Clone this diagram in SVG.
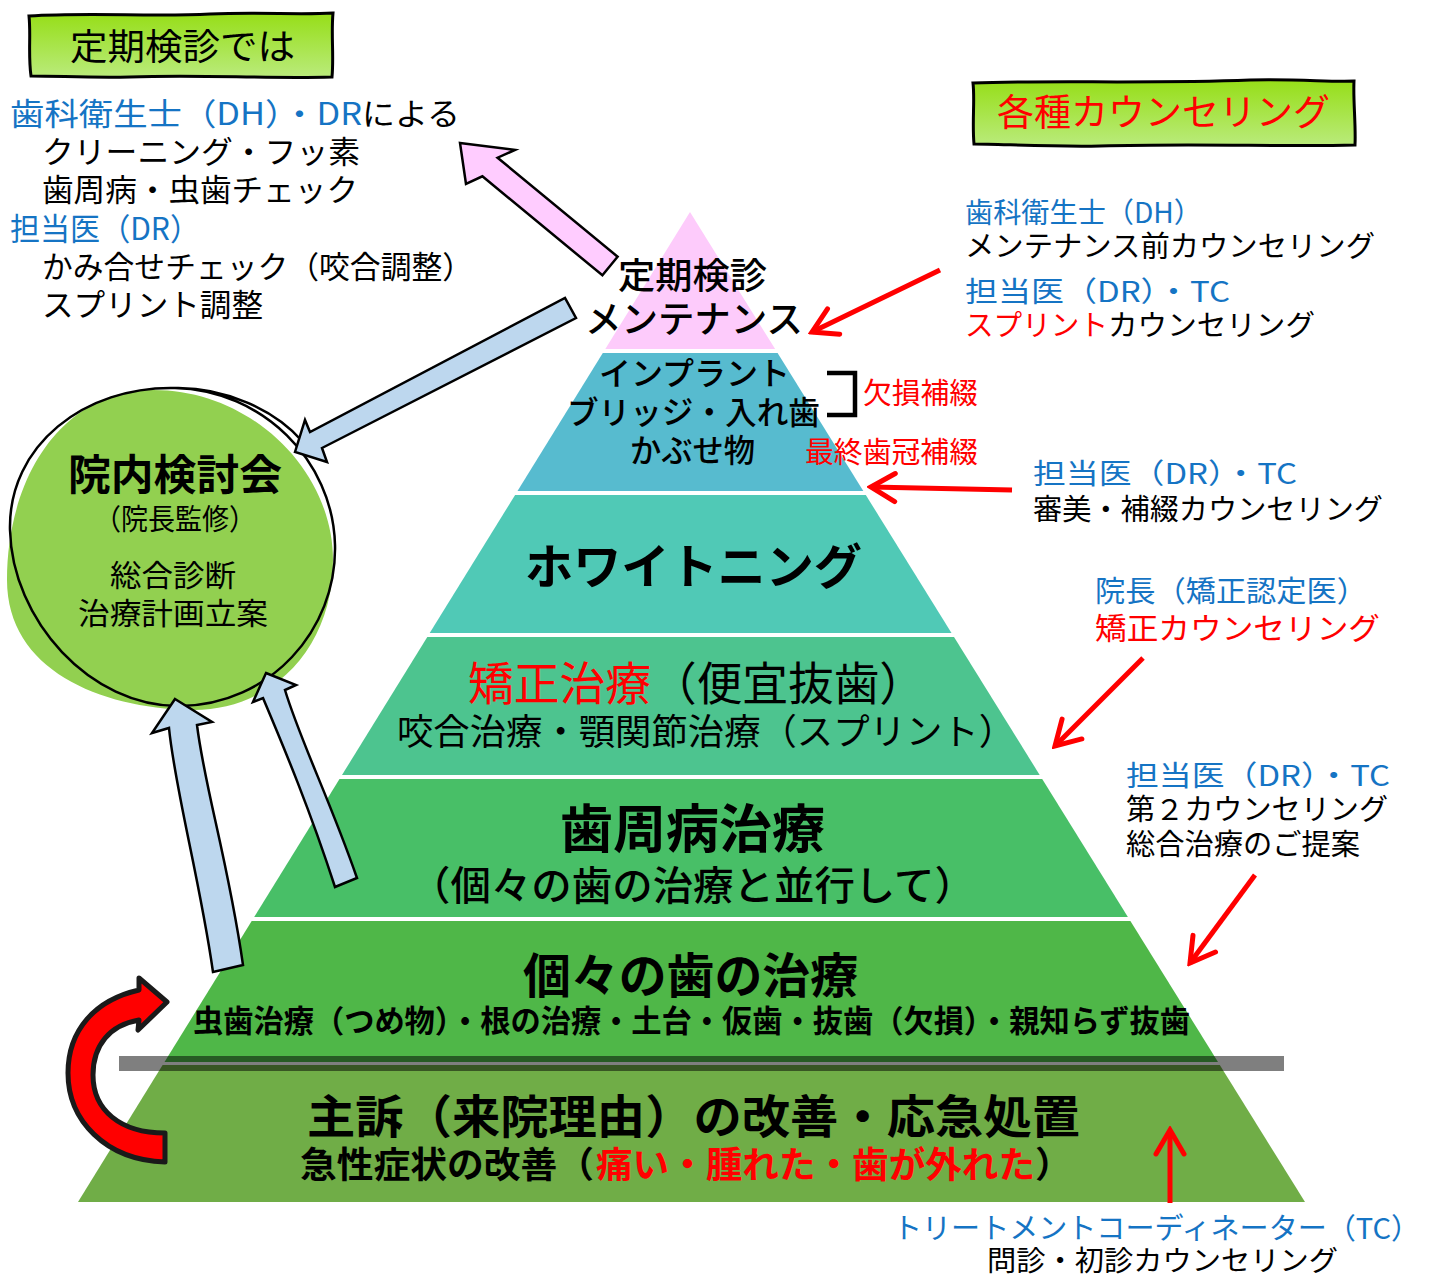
<svg xmlns="http://www.w3.org/2000/svg" width="1435" height="1277" viewBox="0 0 1435 1277">
<defs>
<style>
text{font-family:"Noto Sans CJK JP","Noto Sans",sans-serif;}
.k{fill:#000}
.bl{fill:#1574C4}
.rd{fill:#FF0000}
.m{font-weight:500}
.bd{font-weight:700}
.ra{stroke:#FF0000;stroke-width:5;fill:none;marker-end:url(#rh)}
.ba{fill:#BDD7EE;stroke:#000;stroke-width:2.5;stroke-linejoin:miter}
</style>
<linearGradient id="gb" x1="0" y1="0" x2="0" y2="1">
<stop offset="0" stop-color="#96DE17"/>
<stop offset="1" stop-color="#BAEB7C"/>
</linearGradient>
<marker id="rh" viewBox="-28 -18 32 36" refX="0" refY="0" markerWidth="32" markerHeight="36" markerUnits="userSpaceOnUse" orient="auto">
<path d="M-24,-14 L0,0 L-24,14" fill="none" stroke="#FF0000" stroke-width="5" stroke-linecap="round"/>
</marker>
</defs>
<rect width="1435" height="1277" fill="#fff"/>

<g id="pyramid">
<polygon points="690,212 775.1,349 605.3,349" fill="#FDCBFB"/>
<polygon points="602.8,353 777.6,353 863.3,491 517.5,491" fill="#57BBCF"/>
<polygon points="515.1,495 865.8,495 951.5,633 429.7,633" fill="#50C9B6"/>
<polygon points="427.3,637 954,637 1039.7,775 342,775" fill="#4DC48F"/>
<polygon points="339.5,779 1042.2,779 1127.9,917 254.2,917" fill="#48BF67"/>
<polygon points="251.7,921 1130.4,921 1218,1062 164.5,1062" fill="#4FB748"/>
<polygon points="162.6,1065 1219.8,1065 1305,1202 78,1202" fill="#70AD47"/>
<rect x="119" y="1056" width="1165" height="15" fill="#000" fill-opacity="0.5"/>
</g>

<g id="box-teiki">
<path d="M29,16 C90,12 150,17 210,14 C260,12 300,15 333,13 C331,35 334,55 332,77 C260,79 200,74 130,77 C90,78 60,76 31,76 C28,55 31,35 29,16 Z" fill="url(#gb)" stroke="#000" stroke-width="3"/>
<text x="70" y="60" font-size="36" class="k" textLength="225" lengthAdjust="spacingAndGlyphs">定期検診では</text>
</g>

<g id="left-notes">
<text x="10" y="125" font-size="31" class="bl" textLength="352" lengthAdjust="spacingAndGlyphs">歯科衛生士（DH）・DR</text>
<text x="362" y="125" font-size="31" class="k" textLength="98" lengthAdjust="spacingAndGlyphs">による</text>
<text x="42" y="163" font-size="31" class="k" textLength="318" lengthAdjust="spacingAndGlyphs">クリーニング・フッ素</text>
<text x="42" y="201" font-size="31" class="k" textLength="316" lengthAdjust="spacingAndGlyphs">歯周病・虫歯チェック</text>
<text x="10" y="240" font-size="31" class="bl" textLength="190" lengthAdjust="spacingAndGlyphs">担当医（DR）</text>
<text x="42" y="278" font-size="31" class="k" textLength="431" lengthAdjust="spacingAndGlyphs">かみ合せチェック（咬合調整）</text>
<text x="42" y="316" font-size="31" class="k" textLength="221" lengthAdjust="spacingAndGlyphs">スプリント調整</text>
</g>

<g id="box-counseling">
<path d="M973,83 C1050,80 1150,84 1250,80 C1300,79 1330,82 1354,81 C1353,100 1356,125 1355,145 C1280,147 1200,143 1100,146 C1050,147 1000,144 974,144 C972,122 975,100 973,83 Z" fill="url(#gb)" stroke="#000" stroke-width="3"/>
<text x="997" y="126" font-size="37" class="rd" textLength="333" lengthAdjust="spacingAndGlyphs">各種カウンセリング</text>
</g>

<g id="node-kaigi">
<path d="M150,390 C250,388 333,470 333,560 C333,650 270,712 190,710 C100,708 7,670 7,580 C7,480 60,392 150,390 Z" fill="#92D050"/>
<path d="M175,388 C262,390 333,460 335,545 C337,630 270,705 180,706 C90,707 12,620 10,530 C8,445 85,386 175,388 C225,387 275,410 303,442" fill="none" stroke="#000" stroke-width="2.5"/>
<text x="68" y="490" font-size="42" class="k bd" textLength="214" lengthAdjust="spacingAndGlyphs">院内検討会</text>
<text x="94" y="530" font-size="29" class="k" textLength="162" lengthAdjust="spacingAndGlyphs">（院長監修）</text>
<text x="110" y="586" font-size="30" class="k" textLength="126" lengthAdjust="spacingAndGlyphs">総合診断</text>
<text x="78" y="624" font-size="30" class="k" textLength="190" lengthAdjust="spacingAndGlyphs">治療計画立案</text>
</g>

<g id="layer-maintenance">
<text x="618" y="289" font-size="36" class="k m" textLength="149" lengthAdjust="spacingAndGlyphs">定期検診</text>
<text x="585" y="333" font-size="37" class="k m" textLength="218" lengthAdjust="spacingAndGlyphs">メンテナンス</text>
</g>

<g id="layer-prosthetics">
<text x="599" y="385" font-size="32" class="k m" textLength="191" lengthAdjust="spacingAndGlyphs">インプラント</text>
<text x="567" y="424" font-size="32" class="k m" textLength="253" lengthAdjust="spacingAndGlyphs">ブリッジ・入れ歯</text>
<text x="630" y="462" font-size="32" class="k m" textLength="125" lengthAdjust="spacingAndGlyphs">かぶせ物</text>
<path d="M827,373 L855,373 L855,415 L827,415" fill="none" stroke="#000" stroke-width="4.5"/>
<text x="863" y="404" font-size="29" class="rd" textLength="115" lengthAdjust="spacingAndGlyphs">欠損補綴</text>
<text x="805" y="463" font-size="29" class="rd" textLength="173" lengthAdjust="spacingAndGlyphs">最終歯冠補綴</text>
</g>

<g id="layer-whitening">
<text x="525" y="584" font-size="48" class="k bd" textLength="337" lengthAdjust="spacingAndGlyphs">ホワイトニング</text>
</g>

<g id="layer-ortho">
<text x="468" y="700" font-size="46" class="rd" textLength="183" lengthAdjust="spacingAndGlyphs">矯正治療</text>
<text x="651" y="700" font-size="46" class="k" textLength="274" lengthAdjust="spacingAndGlyphs">（便宜抜歯）</text>
<text x="397" y="745" font-size="36" class="k" textLength="618" lengthAdjust="spacingAndGlyphs">咬合治療・顎関節治療（スプリント）</text>
</g>

<g id="layer-perio">
<text x="560" y="848" font-size="52" class="k bd" textLength="265" lengthAdjust="spacingAndGlyphs">歯周病治療</text>
<text x="410" y="900" font-size="40" class="k m" textLength="565" lengthAdjust="spacingAndGlyphs">（個々の歯の治療と並行して）</text>
</g>

<g id="layer-individual">
<text x="523" y="993" font-size="48" class="k bd" textLength="335" lengthAdjust="spacingAndGlyphs">個々の歯の治療</text>
<text x="193" y="1032" font-size="31" class="k bd" textLength="997" lengthAdjust="spacingAndGlyphs">虫歯治療（つめ物）・根の治療・土台・仮歯・抜歯（欠損）・親知らず抜歯</text>
</g>

<g id="layer-emergency">
<text x="307" y="1133" font-size="46" class="k bd" textLength="773" lengthAdjust="spacingAndGlyphs">主訴（来院理由）の改善・応急処置</text>
<text x="300" y="1178" font-size="36" class="k bd" textLength="294" lengthAdjust="spacingAndGlyphs">急性症状の改善（</text>
<text x="596" y="1178" font-size="36" class="rd bd" textLength="439" lengthAdjust="spacingAndGlyphs">痛い・腫れた・歯が外れた</text>
<text x="1035" y="1178" font-size="36" class="k bd" textLength="37" lengthAdjust="spacingAndGlyphs">）</text>
</g>

<g id="right-notes">
<text x="965" y="223" font-size="28" class="bl" textLength="237" lengthAdjust="spacingAndGlyphs">歯科衛生士（DH）</text>
<text x="965" y="257" font-size="29" class="k" textLength="410" lengthAdjust="spacingAndGlyphs">メンテナンス前カウンセリング</text>
<text x="965" y="302" font-size="28" class="bl" textLength="265" lengthAdjust="spacingAndGlyphs">担当医（DR）・TC</text>
<text x="965" y="336" font-size="29" class="rd" textLength="143" lengthAdjust="spacingAndGlyphs">スプリント</text>
<text x="1108" y="336" font-size="29" class="k" textLength="207" lengthAdjust="spacingAndGlyphs">カウンセリング</text>
<text x="1033" y="484" font-size="28" class="bl" textLength="264" lengthAdjust="spacingAndGlyphs">担当医（DR）・TC</text>
<text x="1033" y="520" font-size="29" class="k" textLength="350" lengthAdjust="spacingAndGlyphs">審美・補綴カウンセリング</text>
<text x="1095" y="602" font-size="29" class="bl" textLength="272" lengthAdjust="spacingAndGlyphs">院長（矯正認定医）</text>
<text x="1095" y="639" font-size="30" class="rd" textLength="285" lengthAdjust="spacingAndGlyphs">矯正カウンセリング</text>
<text x="1126" y="786" font-size="28" class="bl" textLength="264" lengthAdjust="spacingAndGlyphs">担当医（DR）・TC</text>
<text x="1126" y="820" font-size="29" class="k" textLength="262" lengthAdjust="spacingAndGlyphs">第２カウンセリング</text>
<text x="1126" y="855" font-size="29" class="k" textLength="234" lengthAdjust="spacingAndGlyphs">総合治療のご提案</text>
<text x="893" y="1239" font-size="29" class="bl" textLength="527" lengthAdjust="spacingAndGlyphs">トリートメントコーディネーター（TC）</text>
<text x="987" y="1271" font-size="28" class="k" textLength="351" lengthAdjust="spacingAndGlyphs">問診・初診カウンセリング</text>
</g>

<g id="connectors">
<path d="M460,143 L515,150 L497.6,157.7 L617.6,256.7 L602.4,275.3 L482.4,176.3 L466,184 Z" fill="#FFCCFF" stroke="#000" stroke-width="2.5"/>
<path class="ba" d="M295,452 L305,420 L310,432 L565,298 L576,318 L322,448 L327,462 Z"/>
<path class="ba" d="M175,699 L212,722 L197,725 C205,790 228,860 243,965 L213,972 C200,880 175,790 169,728 L152,733 Z"/>
<path class="ba" d="M266,673 L296,685 L285,690 C300,740 330,800 357,878 L335,887 C310,810 285,750 263,698 L253,702 Z"/>
<line class="ra" x1="940" y1="270" x2="812" y2="332"/>
<line class="ra" x1="1012" y1="490" x2="871" y2="487"/>
<line class="ra" x1="1143" y1="658" x2="1055" y2="746"/>
<line class="ra" x1="1255" y1="875" x2="1190" y2="963"/>
<line class="ra" x1="1170" y1="1203" x2="1170" y2="1130"/>
<path d="M165,1162 C105,1160 68,1120 68,1073 C68,1030 95,1000 139,990 L139,978 L167,1002 L138,1030 L139,1020 C110,1025 93,1045 93,1075 C93,1110 120,1133 165,1133 Z" fill="#FF0000" stroke="#1a1a1a" stroke-width="5" stroke-linejoin="round"/>
</g>
</svg>
